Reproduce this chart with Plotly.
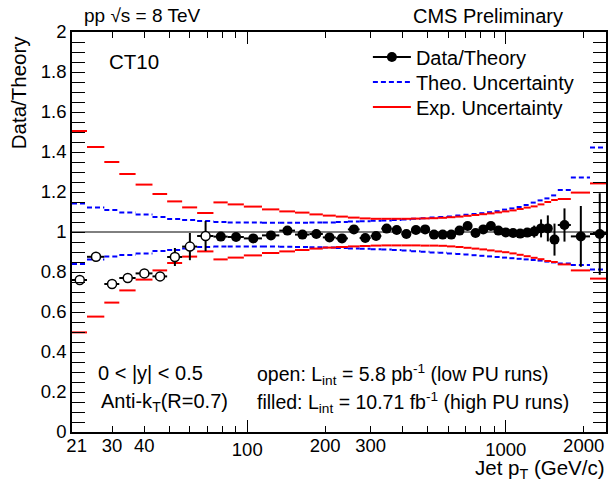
import math
import plotly.graph_objects as go

# ---------------- data ----------------
open_edges = [21, 24, 28, 32, 37, 43, 49, 56, 64, 74]
filled_edges = [74, 84, 97, 114, 133, 153, 174, 196, 220, 245, 272, 300, 330, 362,
                395, 430, 468, 507, 548, 592, 638, 686, 737, 790, 846, 905, 967,
                1032, 1101, 1172, 1248, 1327, 1410, 1497, 1588, 1784, 2116, 2500]

open_ratio = [0.76, 0.876, 0.74, 0.77, 0.793, 0.778, 0.875, 0.927, 0.98]
open_err = [0.012, 0.012, 0.012, 0.012, 0.012, 0.012, 0.045, 0.068, 0.075]

filled_ratio = [0.977, 0.975, 0.968, 0.983, 1.007, 0.987, 0.99, 0.973, 0.968, 1.013,
                0.97, 0.98, 1.017, 1.01, 0.99, 1.01, 1.013, 0.987, 0.987, 0.987,
                1.007, 1.03, 0.995, 1.013, 1.03, 1.007, 0.998, 0.995, 0.992, 0.997,
                1.002, 1.018, 1.018, 0.962, 1.035, 0.978, 0.99]
filled_err = [0.006, 0.006, 0.006, 0.006, 0.006, 0.006, 0.006, 0.006, 0.006, 0.006,
              0.006, 0.006, 0.006, 0.006, 0.006, 0.006, 0.006, 0.006, 0.006, 0.006,
              0.006, 0.006, 0.006, 0.008, 0.008, 0.01, 0.01, 0.012, 0.012, 0.015,
              0.03, 0.045, 0.065, 0.08, 0.083, 0.152, 0.204]

exp_up = [1.505, 1.425, 1.35, 1.29, 1.237, 1.19, 1.153, 1.123, 1.095,
          1.148, 1.138, 1.127, 1.113, 1.103, 1.097, 1.088, 1.082, 1.077, 1.072,
          1.068, 1.066, 1.066, 1.066, 1.066, 1.067, 1.068, 1.069, 1.071, 1.074,
          1.077, 1.081, 1.085, 1.089, 1.093, 1.098, 1.103, 1.108, 1.115, 1.122,
          1.128, 1.138, 1.15, 1.16, 1.165, 1.197, 1.243]
exp_dn = [0.498, 0.577, 0.647, 0.708, 0.762, 0.808, 0.845, 0.877, 0.903,
          0.863, 0.872, 0.883, 0.895, 0.903, 0.91, 0.917, 0.922, 0.925, 0.928,
          0.93, 0.932, 0.933, 0.933, 0.933, 0.933, 0.932, 0.932, 0.931, 0.928,
          0.925, 0.921, 0.917, 0.913, 0.908, 0.903, 0.899, 0.893, 0.886, 0.879,
          0.871, 0.864, 0.855, 0.85, 0.838, 0.808, 0.767]
theo_up = [1.143, 1.123, 1.11, 1.098, 1.088, 1.075, 1.065, 1.06, 1.055,
           1.05, 1.048, 1.047, 1.046, 1.046, 1.046, 1.047, 1.048, 1.05, 1.052,
           1.054, 1.056, 1.058, 1.06, 1.063, 1.066, 1.069, 1.072, 1.075, 1.078,
           1.082, 1.086, 1.09, 1.094, 1.099, 1.104, 1.112, 1.118, 1.125, 1.135,
           1.147, 1.158, 1.168, 1.183, 1.21, 1.273, 1.422]
theo_dn = [0.84, 0.863, 0.877, 0.885, 0.893, 0.905, 0.91, 0.918, 0.925,
           0.928, 0.928, 0.928, 0.927, 0.926, 0.925, 0.924, 0.922, 0.92, 0.918,
           0.916, 0.914, 0.912, 0.91, 0.907, 0.904, 0.901, 0.898, 0.896, 0.893,
           0.89, 0.887, 0.884, 0.881, 0.878, 0.875, 0.872, 0.869, 0.866, 0.863,
           0.86, 0.857, 0.852, 0.848, 0.843, 0.835, 0.813]

x_major_ticks = [100, 1000]
x_minor_ticks = [30, 40, 50, 60, 70, 80, 90, 200, 300, 400, 500, 600, 700, 800, 900, 2000]
x_label_vals = [21, 30, 40, 200, 300, 2000]
x_label_text = ["\u200221", "30", "40", "200", "300", "2000"]
x_min, x_max = 21, 2440

# ---------------- helpers ----------------
all_edges = open_edges + filled_edges[1:]
lo_all, hi_all = all_edges[:-1], all_edges[1:]


def segments(lo, hi, vals):
    xs, ys = [], []
    for a, b, v in zip(lo, hi, vals):
        xs += [a, b, None]
        ys += [v, v, None]
    return xs, ys


def centers(edges):
    lo, hi = edges[:-1], edges[1:]
    c = [(a + b) / 2 for a, b in zip(lo, hi)]
    return c, [b - x for b, x in zip(hi, c)], [x - a for a, x in zip(lo, c)]


W, H = 611, 484
L, R, T, B = 72, 3, 32, 52
PW, PH = W - L - R, H - T - B


def px(x):
    return (x - L) / PW


def py(y):
    return (H - B - y) / PH


FONT = "Liberation Sans, Arial, Helvetica, sans-serif"

fig = go.Figure()

tx1, ty1 = segments(lo_all, hi_all, theo_up)
tx2, ty2 = segments(lo_all, hi_all, theo_dn)
fig.add_trace(go.Scatter(x=tx1 + tx2, y=ty1 + ty2, mode="lines",
                         line=dict(color="#0000ff", width=2, dash="5px,3px"),
                         name="Theo. Uncertainty", legend="legend2"))

ex1, ey1 = segments(lo_all, hi_all, exp_up)
ex2, ey2 = segments(lo_all, hi_all, exp_dn)
fig.add_trace(go.Scatter(x=ex1 + ex2, y=ey1 + ey2, mode="lines",
                         line=dict(color="#ff0000", width=2),
                         name="Exp. Uncertainty", legend="legend3"))

oc, oplus, ominus = centers(open_edges)
fig.add_trace(go.Scatter(
    x=oc, y=open_ratio, mode="markers", showlegend=False,
    marker=dict(symbol="circle", size=9, color="white", line=dict(color="black", width=1.5)),
    error_x=dict(type="data", array=oplus, arrayminus=ominus, color="black", thickness=2, width=0),
    error_y=dict(type="data", array=open_err, color="black", thickness=2, width=0)))

fc, fplus, fminus = centers(filled_edges)
fig.add_trace(go.Scatter(
    x=fc, y=filled_ratio, mode="markers", showlegend=False,
    marker=dict(symbol="circle", size=10, color="black"),
    error_x=dict(type="data", array=fplus, arrayminus=fminus, color="black", thickness=2, width=0),
    error_y=dict(type="data", array=filled_err, color="black", thickness=2, width=0)))

# legend-only entry for the data
fig.add_trace(go.Scatter(x=[None], y=[None], mode="lines+markers", name="Data/Theory",
                         line=dict(color="black", width=2),
                         marker=dict(symbol="circle", size=10, color="black"),
                         legend="legend"))

# empty trace so that the label-only overlay axis is drawn
fig.add_trace(go.Scatter(x=[None], y=[None], xaxis="x2", yaxis="y",
                         showlegend=False, hoverinfo="skip"))

fig.add_shape(type="line", xref="paper", yref="y", x0=0, x1=1, y0=1, y1=1,
              line=dict(color="black", width=1), layer="below")

annots = [
    dict(text="pp √s = 8 TeV", x=px(82), y=py(16), xanchor="left", yanchor="middle", size=19),
    dict(text="CMS Preliminary", x=px(567), y=py(16), xanchor="right", yanchor="middle", size=20),
    dict(text="CT10", x=px(107), y=py(62), xanchor="left", yanchor="middle", size=20.5),
    dict(text="0 < |y| < 0.5", x=px(96), y=py(373), xanchor="left", yanchor="middle", size=20),
    dict(text="Anti-k<sub>T</sub>(R=0.7)", x=px(99), y=py(402), xanchor="left",
         yanchor="middle", size=20),
    dict(text="open: L<sub>int</sub> = 5.8 pb<sup>-1</sup> (low PU runs)", x=px(256), y=py(374),
         xanchor="left", yanchor="middle", size=19.5),
    dict(text="filled: L<sub>int</sub> = 10.71 fb<sup>-1</sup> (high PU runs)", x=px(256), y=py(402),
         xanchor="left", yanchor="middle", size=19.5),
    dict(text="Jet p<sub>T</sub> (GeV/c)", x=px(609), y=py(484), xanchor="right",
         yanchor="bottom", size=20.5),
]
for a in annots:
    fig.add_annotation(text=a["text"], x=a["x"], y=a["y"], xref="paper", yref="paper",
                       xanchor=a["xanchor"], yanchor=a["yanchor"], showarrow=False,
                       font=dict(size=a["size"], color="black", family=FONT))
fig.add_annotation(text="Data/Theory", x=px(19), y=py(33), xref="paper", yref="paper",
                   xanchor="center", yanchor="top", textangle=-90, showarrow=False,
                   font=dict(size=20.5, color="black", family=FONT))


def legend_box(row_y):
    return dict(x=px(369), y=py(row_y), xanchor="left", yanchor="middle",
                bgcolor="rgba(0,0,0,0)", font=dict(size=20, family=FONT, color="black"),
                itemwidth=38)


xr = [math.log10(x_min), math.log10(x_max)]
fig.update_layout(
    width=W, height=H,
    margin=dict(l=L, r=R, t=T, b=B, pad=0),
    paper_bgcolor="white", plot_bgcolor="white",
    font=dict(family=FONT, size=18, color="black"),
    showlegend=True,
    legend=legend_box(57),
    legend2=legend_box(82),
    legend3=legend_box(107),
    xaxis=dict(type="log", range=xr, showgrid=False, zeroline=False,
               showline=True, linecolor="black", linewidth=1.5, mirror="allticks",
               ticks="inside", ticklen=12, tickwidth=1, tickcolor="black",
               tickmode="array", tickvals=x_major_ticks,
               ticktext=[str(v) for v in x_major_ticks],
               tickfont=dict(size=18.5),
               minor=dict(tickmode="array", tickvals=x_minor_ticks, ticks="inside",
                          ticklen=6, tickwidth=1, tickcolor="black", showgrid=False)),
    xaxis2=dict(type="log", range=xr, overlaying="x", anchor="y", side="bottom",
                showgrid=False, zeroline=False, showline=False, ticks="",
                tickmode="array", tickvals=x_label_vals,
                ticktext=x_label_text, tickfont=dict(size=18.5)),
    yaxis=dict(range=[0, 2], showgrid=False, zeroline=False,
               showline=True, linecolor="black", linewidth=1.5, mirror="allticks",
               ticks="inside", ticklen=13, tickwidth=1, tickcolor="black",
               tick0=0, dtick=0.2, tickfont=dict(size=18.5),
               minor=dict(dtick=0.05, ticks="inside", ticklen=7, tickwidth=1,
                          tickcolor="black", showgrid=False)),
)

fig.write_html("out.html", config={"displayModeBar": False},
               post_script="document.body.style.margin='0';document.body.style.padding='0';")
